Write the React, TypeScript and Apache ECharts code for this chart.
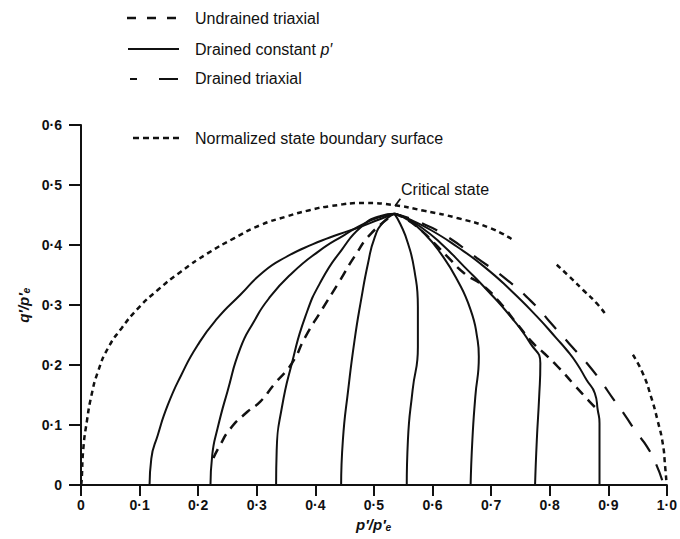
import React, { useEffect, useRef } from "react";
import * as echarts from "echarts";

// Normalized q'/p'e against p'/p'e for the test paths
const xTicks = [0, 0.1, 0.2, 0.3, 0.4, 0.5, 0.6, 0.7, 0.8, 0.9, 1.0];
const yTicks = [0, 0.1, 0.2, 0.3, 0.4, 0.5, 0.6];

// Normalized state boundary surface (drawn in three pieces)
const boundaryLeft = [
  [0, 0], [0.001, 0.006], [0.004, 0.061], [0.01, 0.106], [0.018, 0.15], [0.029, 0.189],
  [0.046, 0.228], [0.069, 0.261], [0.097, 0.294], [0.131, 0.325], [0.171, 0.356],
  [0.216, 0.386], [0.261, 0.411], [0.306, 0.433], [0.349, 0.447], [0.39, 0.458],
  [0.427, 0.465], [0.484, 0.47], [0.53, 0.467], [0.586, 0.457], [0.642, 0.445],
  [0.699, 0.428], [0.738, 0.408],
];
const boundaryMid = [[0.812, 0.367], [0.834, 0.347], [0.857, 0.325], [0.88, 0.303], [0.895, 0.285]];
const boundaryRight = [
  [0.942, 0.217], [0.959, 0.186], [0.973, 0.147], [0.984, 0.108], [0.993, 0.069],
  [0.997, 0.031], [0.999, 0.008],
];

// Drained constant p' paths
const drained1 = [
  [0.117, 0], [0.12, 0.044], [0.131, 0.083], [0.148, 0.133], [0.171, 0.183], [0.199, 0.233],
  [0.233, 0.278], [0.272, 0.317], [0.312, 0.356], [0.35, 0.38], [0.395, 0.401], [0.44, 0.418],
  [0.476, 0.43], [0.51, 0.443], [0.535, 0.452],
];
const drained2 = [
  [0.221, 0], [0.224, 0.05], [0.233, 0.094], [0.25, 0.156], [0.272, 0.228], [0.295, 0.272],
  [0.32, 0.31], [0.36, 0.353], [0.405, 0.389], [0.45, 0.417], [0.484, 0.436], [0.512, 0.447],
  [0.535, 0.452],
];
const drained3 = [
  [0.333, 0], [0.334, 0.058], [0.343, 0.13], [0.36, 0.203], [0.383, 0.281], [0.411, 0.342],
  [0.445, 0.392], [0.478, 0.43], [0.51, 0.448], [0.535, 0.452],
];
const drained4 = [
  [0.444, 0], [0.447, 0.075], [0.456, 0.158], [0.467, 0.242], [0.478, 0.308], [0.49, 0.37],
  [0.501, 0.412], [0.515, 0.437], [0.535, 0.452],
];
const drained5 = [
  [0.556, 0], [0.558, 0.075], [0.566, 0.158], [0.575, 0.23], [0.575, 0.297], [0.569, 0.358],
  [0.558, 0.403], [0.545, 0.435], [0.535, 0.452],
];
const drained6 = [
  [0.665, 0], [0.668, 0.075], [0.673, 0.147], [0.679, 0.214], [0.676, 0.247], [0.665, 0.292],
  [0.642, 0.342], [0.614, 0.386], [0.586, 0.419], [0.558, 0.442], [0.535, 0.452],
];
const drained7 = [
  [0.775, 0], [0.778, 0.075], [0.782, 0.147], [0.784, 0.203], [0.767, 0.236], [0.733, 0.281],
  [0.693, 0.325], [0.654, 0.364], [0.614, 0.403], [0.58, 0.43], [0.552, 0.446], [0.535, 0.452],
];
const drained8 = [
  [0.885, 0], [0.885, 0.075], [0.885, 0.103], [0.882, 0.125], [0.877, 0.153], [0.863, 0.175],
  [0.846, 0.203], [0.829, 0.225], [0.812, 0.244], [0.778, 0.281], [0.733, 0.325],
  [0.688, 0.364], [0.642, 0.397], [0.597, 0.425], [0.558, 0.444], [0.535, 0.452],
];

// Undrained triaxial paths
const undrainedLight = [
  [0.226, 0.045], [0.236, 0.064], [0.255, 0.094], [0.284, 0.122], [0.306, 0.139],
  [0.329, 0.167], [0.36, 0.203], [0.383, 0.247], [0.411, 0.292], [0.439, 0.336],
  [0.467, 0.381], [0.495, 0.419], [0.535, 0.452],
];
const undrainedHeavy = [
  [0.877, 0.13], [0.868, 0.139], [0.84, 0.169], [0.817, 0.194], [0.79, 0.22], [0.772, 0.236],
  [0.744, 0.269], [0.716, 0.303], [0.688, 0.331], [0.654, 0.353], [0.625, 0.381],
  [0.603, 0.403], [0.58, 0.425], [0.555, 0.443], [0.535, 0.452],
];

// Drained triaxial path
const drainedTriaxial = [
  [0.992, 0.008], [0.981, 0.036], [0.966, 0.064], [0.947, 0.089], [0.928, 0.117],
  [0.908, 0.144], [0.888, 0.172], [0.866, 0.2], [0.843, 0.225], [0.823, 0.247], [0.8, 0.272],
  [0.778, 0.297], [0.727, 0.342], [0.676, 0.378], [0.62, 0.417], [0.575, 0.439], [0.535, 0.452],
];

// Pointer from the label to the critical state point
const criticalPointer = [[0.536, 0.465], [0.545, 0.477]];

const INK = "#111111";
const FONT = "'Liberation Sans', Arial, 'DejaVu Sans', sans-serif";

const fmt = (v: number) => (v === 0 ? "0" : v.toFixed(1).replace(".", "·"));

function lineSeries(name: string, data: number[][], type: any, width: number, smooth: number) {
  return {
    name,
    type: "line",
    data,
    showSymbol: false,
    symbol: "none",
    smooth,
    silent: true,
    lineStyle: { color: INK, width, type, cap: "butt" },
  };
}

export default function App() {
  const ref = useRef<HTMLDivElement>(null);

  useEffect(() => {
    if (!ref.current) return;
    const chart = echarts.init(ref.current, undefined, { renderer: "svg" });

    const solid = "solid";
    const undrainedDash = [10, 7];
    const boundaryDash = [5, 4];
    const triaxialDash = [17, 14];
    const curve = 0.55;

    const legendText = {
      fontFamily: FONT,
      fontSize: 16,
      fill: INK,
      verticalAlign: "middle",
    };

    chart.setOption({
      animation: false,
      backgroundColor: "#ffffff",
      grid: { left: 81, right: 9, top: 125, bottom: 54, containLabel: false },
      xAxis: {
        type: "value",
        min: xTicks[0],
        max: xTicks[xTicks.length - 1],
        interval: 0.1,
        name: "p′/p′ₑ",
        nameLocation: "middle",
        nameGap: 27,
        nameTextStyle: {
          fontFamily: FONT,
          fontSize: 15,
          fontStyle: "italic",
          fontWeight: "bold",
          color: INK,
        },
        axisLine: { show: true, onZero: false, lineStyle: { color: INK, width: 2 } },
        axisTick: { show: true, inside: false, length: 11, lineStyle: { color: INK, width: 2 } },
        axisLabel: {
          margin: 13,
          formatter: fmt,
          fontFamily: FONT,
          fontSize: 14,
          fontWeight: "bold",
          color: INK,
        },
        splitLine: { show: false },
      },
      yAxis: {
        type: "value",
        min: yTicks[0],
        max: yTicks[yTicks.length - 1],
        interval: 0.1,
        name: "q′/p′ₑ",
        nameLocation: "middle",
        nameRotate: 90,
        nameGap: 46,
        nameTextStyle: {
          fontFamily: FONT,
          fontSize: 15,
          fontStyle: "italic",
          fontWeight: "bold",
          color: INK,
        },
        axisLine: { show: true, onZero: false, lineStyle: { color: INK, width: 2 } },
        axisTick: { show: true, inside: false, length: 12, lineStyle: { color: INK, width: 2 } },
        axisLabel: {
          margin: 19,
          formatter: fmt,
          fontFamily: FONT,
          fontSize: 14,
          fontWeight: "bold",
          color: INK,
        },
        splitLine: { show: false },
      },
      series: [
        lineSeries("Normalized state boundary surface", boundaryLeft, boundaryDash, 2.5, curve),
        lineSeries("boundary-mid", boundaryMid, boundaryDash, 2.5, curve),
        lineSeries("boundary-right", boundaryRight, boundaryDash, 2.5, curve),
        lineSeries("Drained constant p′ 1", drained1, solid, 2, curve),
        lineSeries("Drained constant p′ 2", drained2, solid, 2, curve),
        lineSeries("Drained constant p′ 3", drained3, solid, 2, curve),
        lineSeries("Drained constant p′ 4", drained4, solid, 2, curve),
        lineSeries("Drained constant p′ 5", drained5, solid, 2, curve),
        lineSeries("Drained constant p′ 6", drained6, solid, 2, curve),
        lineSeries("Drained constant p′ 7", drained7, solid, 2, curve),
        lineSeries("Drained constant p′ 8", drained8, solid, 2, curve),
        lineSeries("Undrained triaxial (light)", undrainedLight, undrainedDash, 2.5, curve),
        lineSeries("Undrained triaxial (heavy)", undrainedHeavy, undrainedDash, 2.5, curve),
        lineSeries("Drained triaxial", drainedTriaxial, triaxialDash, 2.2, curve),
        lineSeries("critical pointer", criticalPointer, solid, 1.8, 0),
      ],
      graphic: [
        // key at the top of the figure
        { type: "line", shape: { x1: 127, y1: 18, x2: 177, y2: 18 },
          style: { stroke: INK, lineWidth: 2.5, lineDash: [9, 11] } },
        { type: "text", x: 195, y: 18, style: { ...legendText, text: "Undrained triaxial" } },
        { type: "line", shape: { x1: 128, y1: 49, x2: 179, y2: 49 },
          style: { stroke: INK, lineWidth: 2 } },
        {
          type: "text",
          x: 195,
          y: 49,
          style: {
            ...legendText,
            text: "Drained constant {i|p′}",
            rich: { i: { fontFamily: FONT, fontSize: 16, fontStyle: "italic", fill: INK } },
          },
        },
        { type: "line", shape: { x1: 130, y1: 79, x2: 178, y2: 79 },
          style: { stroke: INK, lineWidth: 2.2, lineDash: [7, 22, 19, 0] } },
        { type: "text", x: 195, y: 78, style: { ...legendText, text: "Drained triaxial" } },
        // key entry inside the plot
        { type: "line", shape: { x1: 133, y1: 138, x2: 181, y2: 138 },
          style: { stroke: INK, lineWidth: 2.5, lineDash: [6, 4] } },
        { type: "text", x: 195, y: 138, style: { ...legendText, text: "Normalized state boundary surface" } },
        // critical state label
        {
          type: "text",
          x: 401,
          y: 189,
          style: { ...legendText, text: "Critical state" },
        },
      ],
    });

    return () => chart.dispose();
  }, []);

  return (
    <div
      ref={ref}
      style={{ position: "absolute", left: 0, top: 0, width: 680, height: 539, background: "#fff" }}
    />
  );
}
